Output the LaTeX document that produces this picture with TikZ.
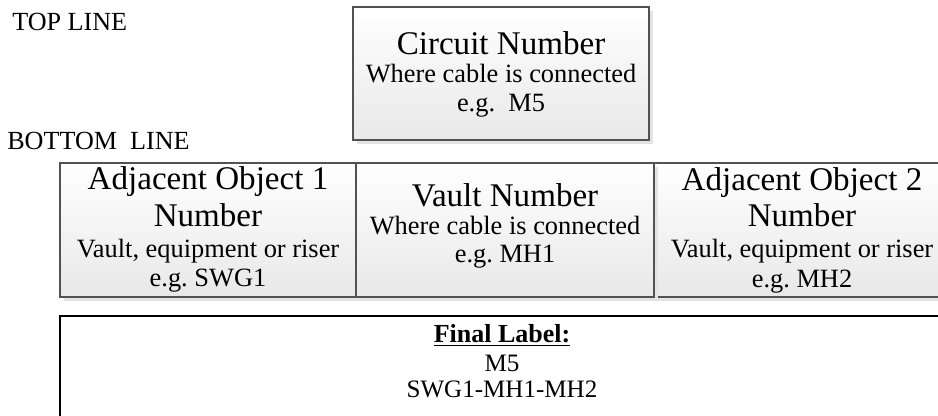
\documentclass[tikz,border=0pt]{standalone}
\usepackage{fontspec}
\setmainfont{Liberation Serif}
\usetikzlibrary{shadows}
\newcommand\fTitle{\fontsize{24.8}{28}\selectfont}
\newcommand\fSub{\fontsize{19.8}{23}\selectfont}
\newcommand\fHead{\fontsize{19.6}{23}\selectfont}
\newcommand\fFinal{\fontsize{18.8}{22}\selectfont}
\newcommand\fFinalB{\fontsize{19.5}{22}\selectfont}
\begin{document}
\begin{tikzpicture}[x=0.75pt,y=-0.75pt,
  cellbox/.style={draw=black!68, line width=0.9pt, top color=white, bottom color=black!9,
    minimum width=222pt, minimum height=100.5pt, inner sep=0pt,
    drop shadow={shadow xshift=3.2pt, shadow yshift=-3.2pt, fill=black!11, opacity=1}},
  finalbox/.style={draw=black, line width=1pt, fill=white, minimum width=663pt,
    minimum height=93pt, inner sep=0pt},
  txt/.style={anchor=base, inner sep=0pt},
  headtxt/.style={anchor=base west, inner sep=0pt, font=\fHead}]
\useasboundingbox (0,0) rectangle (938,416);
\clip (0,0) rectangle (938,416);
\fill[white] (0,0) rectangle (938,416);

% boxes
\node[cellbox, minimum height=99.75pt] (circuit) at (501,73.5) {};
\node[cellbox] (adj2) at (802,230) {};
\node[cellbox] (adj1) at (208,230) {};
\node[cellbox, minimum width=223.5pt] (vault) at (505,230) {};
\node[finalbox] (final) at (502,378) {};

% headings
\node[headtxt] (topline) at (12,31) {TOP LINE};
\node[headtxt] (bottomline) at (7,150) {BOTTOM\ \ LINE};

% circuit box text
\node[txt, font=\fTitle] (c1) at (501,55) {Circuit Number};
\node[txt, font=\fSub] (c2) at (501,83) {Where cable is connected};
\node[txt, font=\fSub] (c3) at (501,112) {e.g.\ \ M5};

% adjacent object 1
\node[txt, font=\fTitle] (a1) at (208,190) {Adjacent Object 1};
\node[txt, font=\fTitle] (a2) at (208,227) {Number};
\node[txt, font=\fSub] (a3) at (208,258) {Vault, equipment or riser};
\node[txt, font=\fSub] (a4) at (208,287) {e.g.\ SWG1};

% vault
\node[txt, font=\fTitle] (v1) at (505,207) {Vault Number};
\node[txt, font=\fSub] (v2) at (505,235) {Where cable is connected};
\node[txt, font=\fSub] (v3) at (505,263) {e.g.\ MH1};

% adjacent object 2
\node[txt, font=\fTitle] (b1) at (802,191) {Adjacent Object 2};
\node[txt, font=\fTitle] (b2) at (802,227) {Number};
\node[txt, font=\fSub] (b3) at (802,258) {Vault, equipment or riser};
\node[txt, font=\fSub] (b4) at (802,288) {e.g.\ MH2};

% final label
\node[txt, font=\fFinalB] (f1) at (502,343) {\underline{\textbf{Final Label:}}};
\node[txt, font=\fFinal] (f2) at (502,371) {M5};
\node[txt, font=\fFinal] (f3) at (502,397) {SWG1-MH1-MH2};
\end{tikzpicture}
\end{document}
